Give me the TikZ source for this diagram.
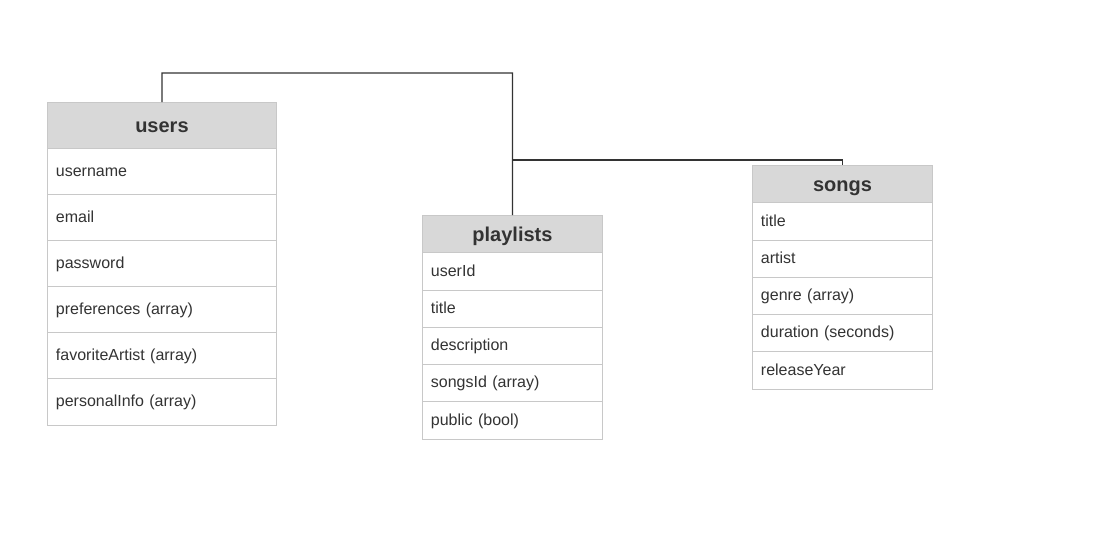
\documentclass[tikz,border=0pt]{standalone}
\usepackage{fontspec}
\setmainfont{Liberation Sans}
\definecolor{bordc}{HTML}{C8C8C8}
\definecolor{hdrc}{HTML}{D8D8D8}
\definecolor{txtc}{HTML}{333333}
\definecolor{linec}{HTML}{333333}
\begin{document}
\begin{tikzpicture}[x=1pt,y=-1pt,
  cell/.style={draw=bordc, line width=0.9pt, anchor=north west, inner ysep=0pt, text=txtc},
  hdr/.style={cell, fill=hdrc, align=center, text height=16pt, text depth=1.5pt, font=\fontsize{20}{22}\selectfont\bfseries},
  row/.style={cell, fill=white, align=left, inner xsep=8.5pt, text height=12.5pt, text depth=2.5pt, font=\fontsize{16}{18}\selectfont},
  uw/.style={minimum width=229pt, text width=212pt},
  pw/.style={minimum width=180pt, text width=163pt},
  conn/.style={draw=linec, line width=1.3pt}]
\useasboundingbox (0,0) rectangle (1108,533);
% users
\node[hdr, minimum width=229pt, minimum height=46pt] (users) at (47,102) {users};
\node[row, uw, minimum height=46pt] (u1) at (47,148) {username};
\node[row, uw, minimum height=46pt] (u2) at (47,194) {email};
\node[row, uw, minimum height=46pt] (u3) at (47,240) {password};
\node[row, uw, minimum height=46pt] (u4) at (47,286) {preferences (array)};
\node[row, uw, minimum height=46pt] (u5) at (47,332) {favoriteArtist (array)};
\node[row, uw, minimum height=47pt] (u6) at (47,378) {personalInfo (array)};
% playlists
\node[hdr, minimum width=180pt, minimum height=37pt] (playlists) at (422,215) {playlists};
\node[row, pw, minimum height=38pt] (p1) at (422,252) {userId};
\node[row, pw, minimum height=37pt] (p2) at (422,290) {title};
\node[row, pw, minimum height=37pt] (p3) at (422,327) {description};
\node[row, pw, minimum height=37pt] (p4) at (422,364) {songsId (array)};
\node[row, pw, minimum height=38pt] (p5) at (422,401) {public (bool)};
% songs
\node[hdr, minimum width=180pt, minimum height=37pt] (songs) at (752,165) {songs};
\node[row, pw, minimum height=38pt] (s1) at (752,202) {title};
\node[row, pw, minimum height=37pt] (s2) at (752,240) {artist};
\node[row, pw, minimum height=37pt] (s3) at (752,277) {genre (array)};
\node[row, pw, minimum height=37pt] (s4) at (752,314) {duration (seconds)};
\node[row, pw, minimum height=38pt] (s5) at (752,351) {releaseYear};
% connectors
\coordinate (top) at (162,73);
\coordinate (j) at (512,160);
\draw[conn] (users.north) -- (top) -| (playlists.north);
\draw[conn] (j) -| (songs.north);
\end{tikzpicture}
\end{document}
